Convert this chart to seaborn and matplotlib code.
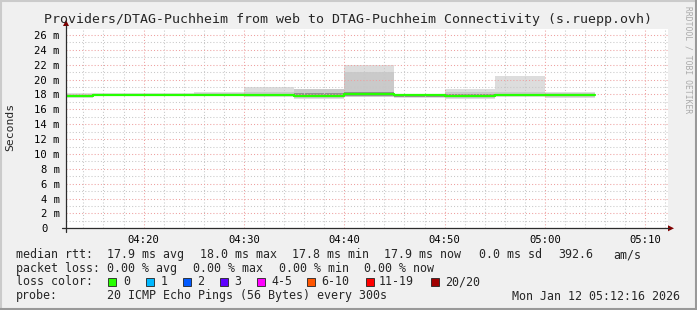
import numpy as np
import pandas as pd
import matplotlib
matplotlib.use("Agg")
import matplotlib.pyplot as plt
import matplotlib.dates as mdates
from matplotlib.patches import Rectangle, Polygon
from matplotlib.lines import Line2D
from matplotlib.ticker import MultipleLocator, FuncFormatter
from matplotlib.transforms import ScaledTranslation
import seaborn as sns

# ---------------- data ----------------
day = "2026-01-12 "
bin_start = ["04:10", "04:15", "04:20", "04:25", "04:30", "04:35",
             "04:40", "04:45", "04:50", "04:55", "05:00"]
bin_end = "05:05"
median_ms = [17.8, 17.9, 17.9, 17.9, 17.9, 17.85, 18.05, 17.9, 17.85, 17.9, 17.9]
ping_min = [17.55, 17.8, 17.8, 17.75, 17.7, 17.45, 17.6, 17.5, 17.4, 17.7, 17.5]
ping_p10 = [17.6, 17.82, 17.82, 17.8, 17.75, 17.5, 17.65, 17.6, 17.5, 17.75, 17.6]
ping_p25 = [17.65, 17.85, 17.85, 17.85, 17.8, 17.6, 17.75, 17.7, 17.65, 17.8, 17.75]
ping_p75 = [17.9, 17.95, 17.95, 17.95, 18.0, 18.2, 18.3, 17.95, 18.0, 18.0, 18.0]
ping_p90 = [18.1, 18.1, 18.1, 18.25, 18.3, 18.75, 21.0, 18.05, 18.3, 18.3, 18.2]
ping_max = [18.2, 18.15, 18.2, 18.4, 19.0, 18.8, 22.0, 18.1, 18.7, 20.5, 18.4]

view_start = "04:12:16"
view_end = "05:12:16"

title = "Providers/DTAG-Puchheim from web to DTAG-Puchheim Connectivity (s.ruepp.ovh)"
y_label = "Seconds"
rtt_items = ["17.9 ms avg", "18.0 ms max", "17.8 ms min", "17.9 ms now", "0.0 ms sd", "392.6", "am/s"]
loss_items = ["0.00 % avg", "0.00 % max", "0.00 % min", "0.00 % now"]
loss_labels = ["0", "1", "2", "3", "4-5", "6-10", "11-19", "20/20"]
loss_colors = ["#26ff00", "#00b8ff", "#0059ff", "#5e00ff", "#ff00fe", "#ff5500", "#ff0000", "#a10000"]
probe_text = "20 ICMP Echo Pings (56 Bytes) every 300s"
stamp_text = "Mon Jan 12 05:12:16 2026"
watermark = "RRDTOOL / TOBI OETIKER"

# ---------------- figure ----------------
W, H = 697, 310
sns.set_style("white")
plt.rcParams["font.family"] = ["DejaVu Sans Mono", "DejaVu Sans"]
MONO = "DejaVu Sans Mono"

fig = plt.figure(figsize=(W / 100, H / 100), dpi=100, facecolor="#f0f0f0")

def fx(px):
    return px / W

def fy(py):
    return 1 - py / H

x0, x1 = 66, 668
ytop, ybot = 29, 228.3
px_per_ms = (228.3 - 35) / 26.0
ax = fig.add_axes([fx(x0), fy(ybot), fx(x1) - fx(x0), fy(ytop) - fy(ybot)])
ax.set_facecolor("white")

t = pd.to_datetime([day + s for s in bin_start] + [day + bin_end])

def ext(v):
    return list(v) + [v[-1]]

bands = [(ping_min, ping_max, "#dddddd"),
         (ping_p10, ping_p90, "#cacaca"),
         (ping_p25, ping_p75, "#919191")]
for lo, hi, c in bands:
    ax.fill_between(t, ext(lo), ext(hi), step="post", color=c, lw=0, zorder=1)

df = pd.DataFrame({"time": t, "median": ext(median_ms)})
sns.lineplot(data=df, x="time", y="median", ax=ax, estimator=None, sort=False,
             drawstyle="steps-post", color=loss_colors[0], lw=1.6, zorder=5)

ax.set_xlim(pd.Timestamp(day + view_start), pd.Timestamp(day + view_end))
ax.set_ylim(0, (ybot - ytop) / px_per_ms)

ax.xaxis.set_major_locator(mdates.MinuteLocator(byminute=range(0, 60, 10)))
ax.xaxis.set_minor_locator(mdates.MinuteLocator(byminute=range(0, 60, 2)))
ax.xaxis.set_major_formatter(mdates.DateFormatter("%H:%M"))
ax.yaxis.set_major_locator(MultipleLocator(2))
ax.yaxis.set_minor_locator(MultipleLocator(1))
ax.yaxis.set_major_formatter(FuncFormatter(lambda v, p: "0" if v == 0 else f"{int(round(v))} m"))

ax.grid(True, which="minor", color="#c8c8c8", lw=0.75, ls=(0, (1, 2)), zorder=3)
ax.grid(True, which="major", color="#eea0a0", lw=0.75, ls=(0, (1, 2)), zorder=3)
ax.set_axisbelow(False)
for sp in ax.spines.values():
    sp.set_visible(False)

ax.tick_params(axis="x", which="major", length=2.5, width=0.7, color="#2c2c2c", pad=2.5,
               labelsize=7.6, labelcolor="black")
ax.tick_params(axis="x", which="minor", length=1.5, width=0.7, color="#2c2c2c")
ax.tick_params(axis="y", which="major", length=2.2, width=0.7, color="#eea0a0", pad=2.2,
               labelsize=7.6, labelcolor="black")
ax.tick_params(axis="y", which="minor", length=0)
for lab in ax.get_xticklabels() + ax.get_yticklabels():
    lab.set_fontfamily(MONO)
ax.set_xlabel("")
ax.set_ylabel("")

fig.canvas.draw()
for tk in ax.yaxis.get_major_ticks():
    if abs(tk.get_loc()) < 1e-9:
        tk.label1.set_transform(tk.label1.get_transform() +
                                ScaledTranslation(-12.5 / 100, 0, fig.dpi_scale_trans))

# axes lines with arrows
axis_col = "#2c2c2c"
arrow_col = "#7f0000"
fig.add_artist(Line2D([fx(62), fx(669)], [fy(ybot), fy(ybot)], color=axis_col, lw=0.9))
fig.add_artist(Line2D([fx(x0), fx(x0)], [fy(232), fy(25)], color=axis_col, lw=0.9))
fig.add_artist(Polygon([[fx(668), fy(ybot - 3)], [fx(668), fy(ybot + 3)], [fx(674), fy(ybot)]],
                       closed=True, color=arrow_col, lw=0))
fig.add_artist(Polygon([[fx(x0 - 3), fy(26)], [fx(x0 + 3), fy(26)], [fx(x0), fy(20)]],
                       closed=True, color=arrow_col, lw=0))

# frame (3D shading)
fig.add_artist(Line2D([0, 1], [fy(0.5), fy(0.5)], color="#cbcbcb", lw=1.5))
fig.add_artist(Line2D([fx(0.5), fx(0.5)], [0, 1], color="#cbcbcb", lw=1.5))
fig.add_artist(Line2D([0, 1], [fy(309), fy(309)], color="#999999", lw=1.5))
fig.add_artist(Line2D([fx(696), fx(696)], [0, 1], color="#999999", lw=1.5))

# title and labels
fig.text(fx(347.5), fy(19), title, ha="center", va="center", fontsize=9.5, family=MONO)
fig.text(fx(10), fy(127), y_label, ha="center", va="center", rotation=90, fontsize=8.2, family=MONO)
fig.text(fx(688), fy(60), watermark, ha="center", va="center", rotation=270,
         fontsize=5.8, family=MONO, color="#aaaaaa")

LS = 8.4
# legend rows
r1, r2, r3, r4 = 254.5, 268.3, 281.7, 296
fig.text(fx(15.5), fy(r1), "median rtt:", ha="left", va="center", fontsize=LS, family=MONO)
for s, px in zip(rtt_items, [107, 199.5, 292, 384.5, 479, 558, 613.5]):
    fig.text(fx(px), fy(r1), s, ha="left", va="center", fontsize=LS, family=MONO)
fig.text(fx(15.5), fy(r2), "packet loss:", ha="left", va="center", fontsize=LS, family=MONO)
for s, px in zip(loss_items, [107, 193, 279, 364.5]):
    fig.text(fx(px), fy(r2), s, ha="left", va="center", fontsize=LS, family=MONO)
fig.text(fx(15.5), fy(r3), "loss color:", ha="left", va="center", fontsize=LS, family=MONO)
sq_x = [108.3, 145.7, 182.7, 220, 256.7, 306.7, 366, 430.7]
lab_x = [123.2, 160.2, 197.2, 234.5, 271.2, 321.2, 378.8, 444.8]
for lab, c, sx, lx in zip(loss_labels, loss_colors, sq_x, lab_x):
    fig.add_artist(Rectangle((fx(sx), fy(285.5)), fx(8), 8 / H, facecolor=c,
                             edgecolor="#222222", lw=0.6))
    fig.text(fx(lx), fy(r3), lab, ha="left", va="center", fontsize=LS, family=MONO)
fig.text(fx(15.5), fy(r4), "probe:", ha="left", va="center", fontsize=LS, family=MONO)
fig.text(fx(107), fy(r4), probe_text, ha="left", va="center", fontsize=LS, family=MONO)
fig.text(fx(680.5), fy(r4), stamp_text, ha="right", va="center", fontsize=LS, family=MONO)

fig.savefig("out.png", dpi=100, facecolor=fig.get_facecolor())
